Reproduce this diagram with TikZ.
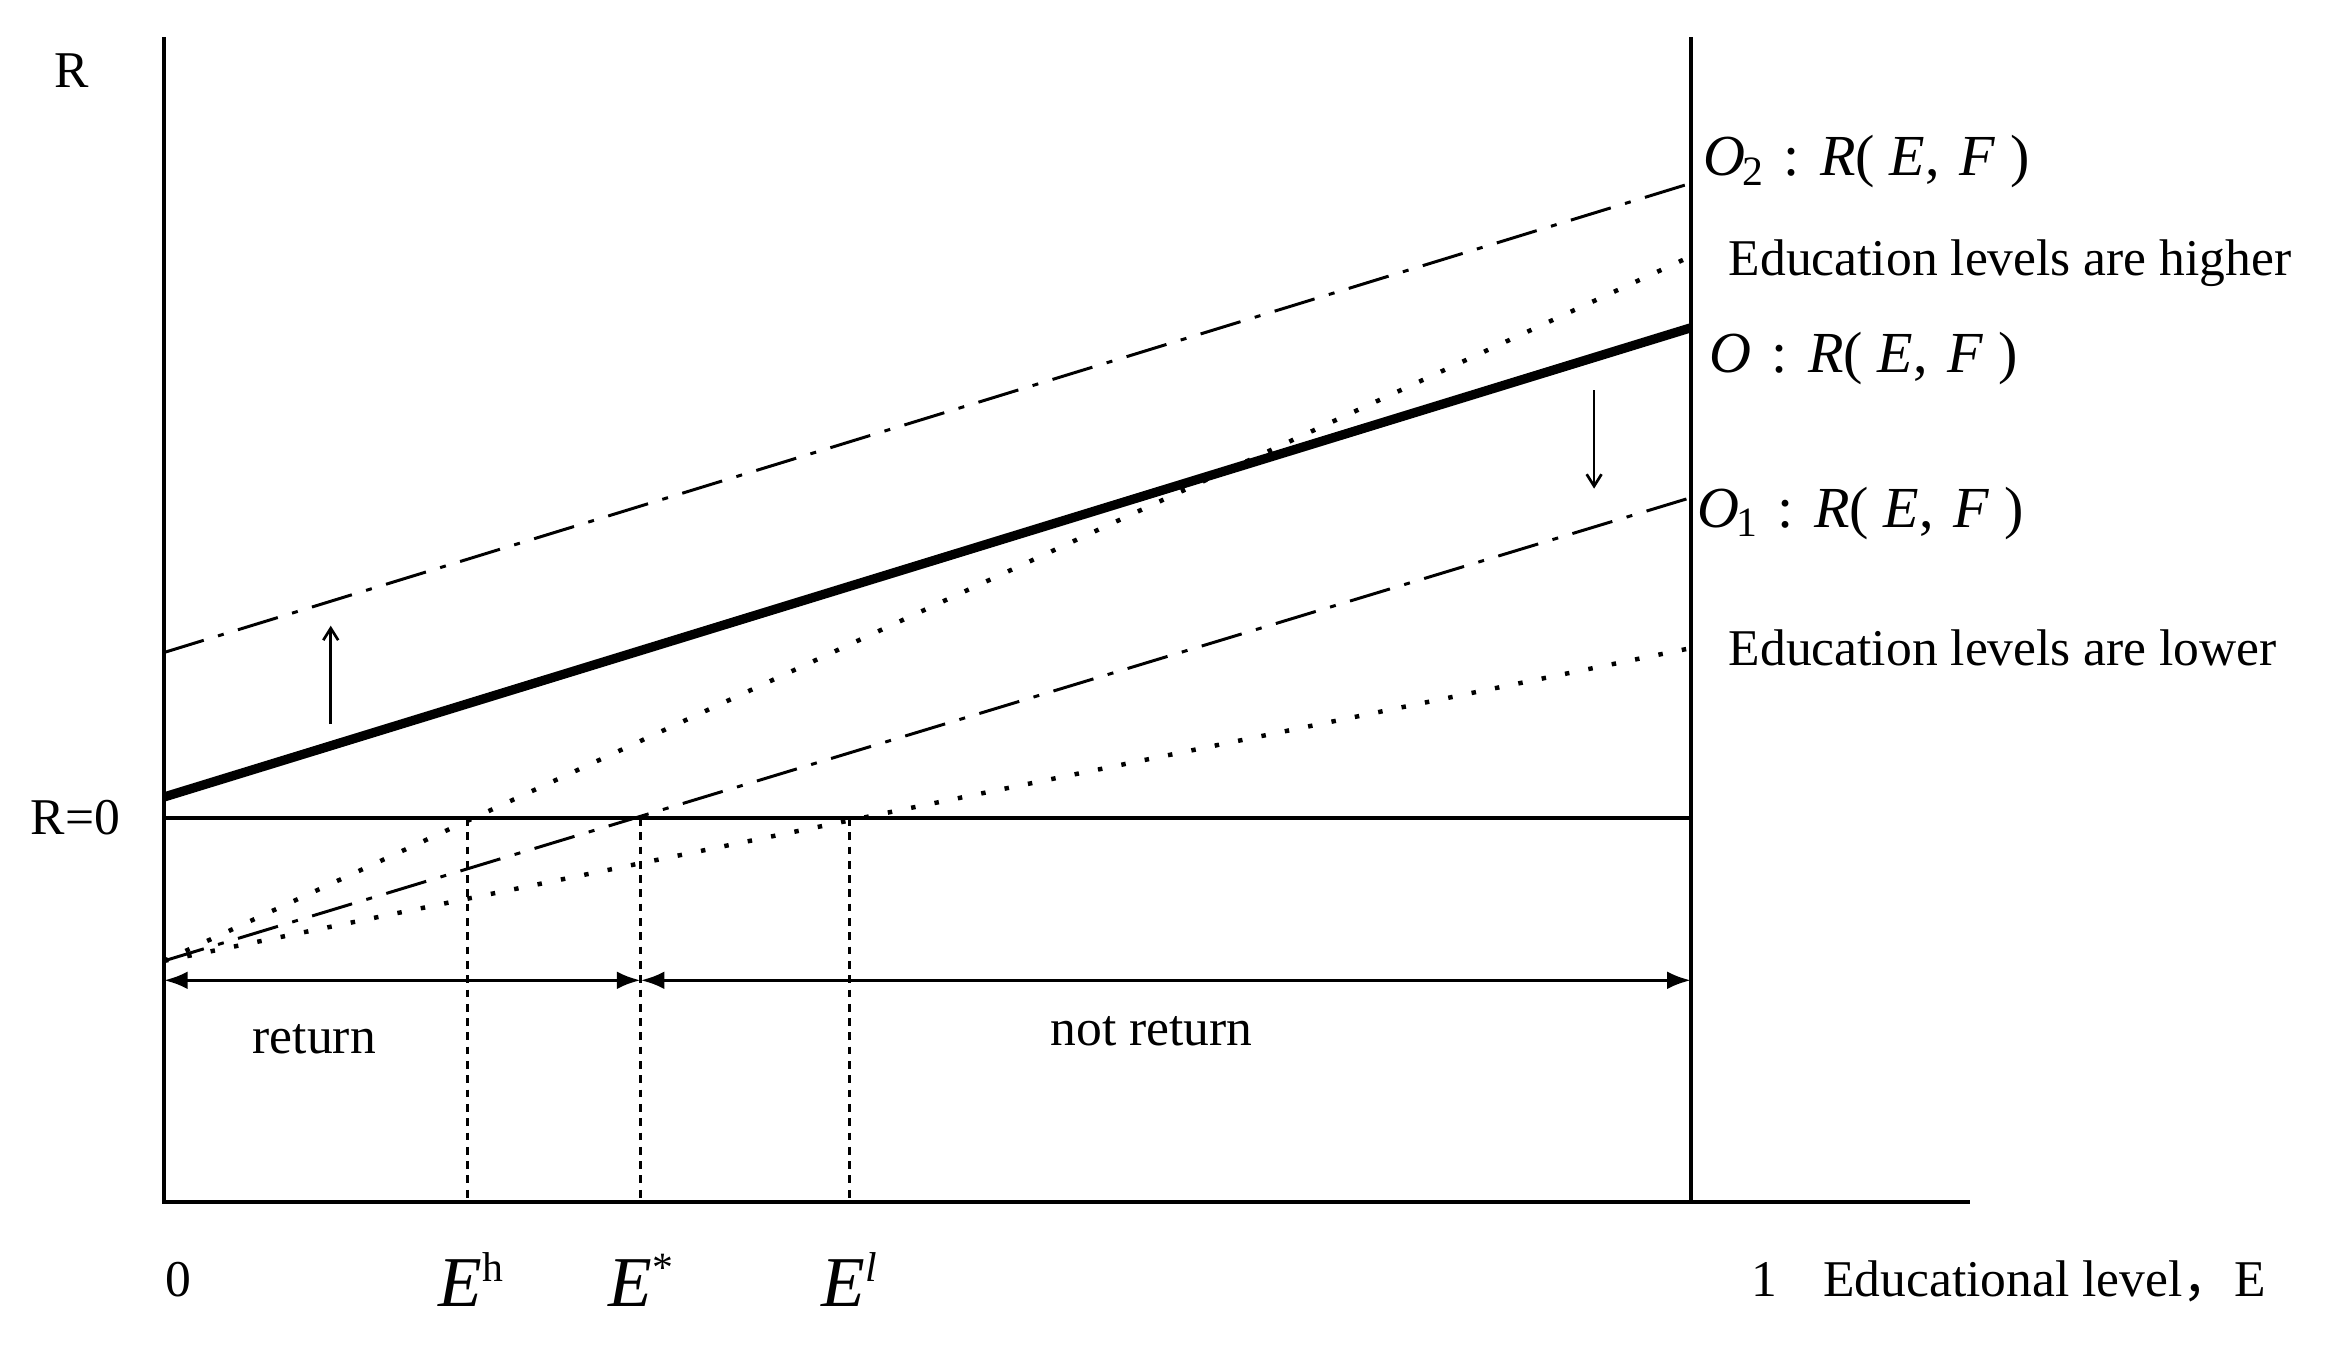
\documentclass[tikz,border=0pt]{standalone}
\usepackage{fontspec}
\setmainfont{Liberation Serif}
\newfontfamily\cjk{Noto Sans CJK SC}
\usetikzlibrary{arrows.meta}
\begin{document}
\begin{tikzpicture}[x=0.5pt,y=-0.5pt,
  axis/.style={line width=1.2pt},
  thickline/.style={line width=3.1pt},
  dashdot/.style={line width=1pt, dash pattern=on 14pt off 5pt on 2pt off 5pt},
  dotline/.style={line width=1.5pt, dash pattern=on 1.5pt off 6.5pt},
  vdash/.style={line width=1pt, dash pattern=on 2.6pt off 2.2pt},
  dbl/.style={line width=1.2pt, {Latex[length=8pt,width=6pt]}-{Latex[length=8pt,width=6pt]}},
  movearrow/.style={line width=0.9pt, -{Straight Barb[length=4pt,width=5pt]}},
  lbl/.style={font=\fontsize{17.3}{20}\selectfont, inner sep=0pt},
  mlbl/.style={font=\fontsize{19.5}{22}\selectfont, inner sep=0pt, anchor=base west},
  elbl/.style={font=\fontsize{24}{26}\selectfont, inner sep=0pt, anchor=base},
  ]
\useasboundingbox (0,0) rectangle (1568,910);
% key points
\coordinate (Otop) at (110,25);
\coordinate (O0) at (110,807);
\coordinate (Xend) at (1322,807);
\coordinate (Rtop) at (1135,25);
\coordinate (Rbot) at (1135,807);
\coordinate (Z0) at (110,549);
\coordinate (Z1) at (1135,549);
\coordinate (Ostart) at (110,535);
\coordinate (Oend) at (1135,220);
\coordinate (OAstart) at (110,438);
\coordinate (OAend) at (1135,123);
\coordinate (OBstart) at (110,645);
\coordinate (OBend) at (1135,334);
\coordinate (Hstart) at (110,645);
\coordinate (Hend) at (1135,172);
\coordinate (Lstart) at (110,645);
\coordinate (Lend) at (1135,435);
\coordinate (Eh0) at (314,549);
\coordinate (Eh1) at (314,807);
\coordinate (Es0) at (430,549);
\coordinate (Es1) at (430,807);
\coordinate (El0) at (570,549);
\coordinate (El1) at (570,807);
\coordinate (A0) at (110,658);
\coordinate (A1) at (430,658);
\coordinate (A2) at (1135,658);
\coordinate (U0) at (222,486);
\coordinate (U1) at (222,420);
\coordinate (D0) at (1070,262);
\coordinate (D1) at (1070,328);
% axes
\draw[axis] (Otop) -- (O0) -- (Xend);
\draw[axis] (Rtop) -- (Rbot);
\draw[axis] (Z0) -- (Z1);
% curves
\draw[dashdot] (OAstart) -- (OAend);
\draw[dashdot] (OBstart) -- (OBend);
\draw[dotline] (Hstart) -- (Hend);
\draw[dotline] (Lstart) -- (Lend);
\draw[thickline] (Ostart) -- (Oend);
% verticals
\draw[vdash] (Eh0) -- (Eh1);
\draw[vdash] (Es0) -- (Es1);
\draw[vdash] (El0) -- (El1);
% arrows
\draw[dbl] (A0) -- (A1);
\draw[dbl] (A1) -- (A2);
\draw[movearrow] (U0) -- (U1);
\draw[movearrow] (D0) -- (D1);
% labels
\node[lbl, anchor=base] (lR) at (48,59) {R};
\node[lbl, anchor=base east] (lR0) at (81,560) {R=0};
\node[lbl, anchor=base] (l0) at (120,870) {0};
\node[lbl, anchor=base] (lret) at (211,707) {return};
\node[lbl, anchor=base] (lnret) at (773,702) {not return};
\node[lbl, anchor=base west] (l1) at (1175,870) {1\hspace{0.9em}Educational level{\cjk ，}E};
\node[lbl, anchor=base west] (lhi) at (1160,185) {Education levels are higher};
\node[lbl, anchor=base west] (llo) at (1160,447) {Education levels are lower};
\node[mlbl] (lO2) at (1143,118) {\textit{O}\kern-0.05em\raisebox{-0.35ex}{\fontsize{14}{14}\selectfont 2}\hspace{0.35em}:\hspace{0.35em}\textit{R}(\hspace{0.25em}\textit{E},\hspace{0.35em}\textit{F}\hspace{0.25em})};
\node[mlbl] (lO) at (1147,250) {\textit{O}\hspace{0.35em}:\hspace{0.35em}\textit{R}(\hspace{0.25em}\textit{E},\hspace{0.35em}\textit{F}\hspace{0.25em})};
\node[mlbl] (lO1) at (1139,354) {\textit{O}\kern-0.05em\raisebox{-0.35ex}{\fontsize{14}{14}\selectfont 1}\hspace{0.35em}:\hspace{0.35em}\textit{R}(\hspace{0.25em}\textit{E},\hspace{0.35em}\textit{F}\hspace{0.25em})};
\node[elbl] (lEh) at (316,877) {\textit{E}\raisebox{0.75ex}{\fontsize{14}{14}\selectfont h}};
\node[elbl] (lEs) at (430,877) {\textit{E}\raisebox{0.75ex}{\fontsize{14}{14}\selectfont *}};
\node[elbl] (lEl) at (570,877) {\textit{E}\raisebox{0.75ex}{\fontsize{14}{14}\selectfont\itshape l}};
\end{tikzpicture}
\end{document}
